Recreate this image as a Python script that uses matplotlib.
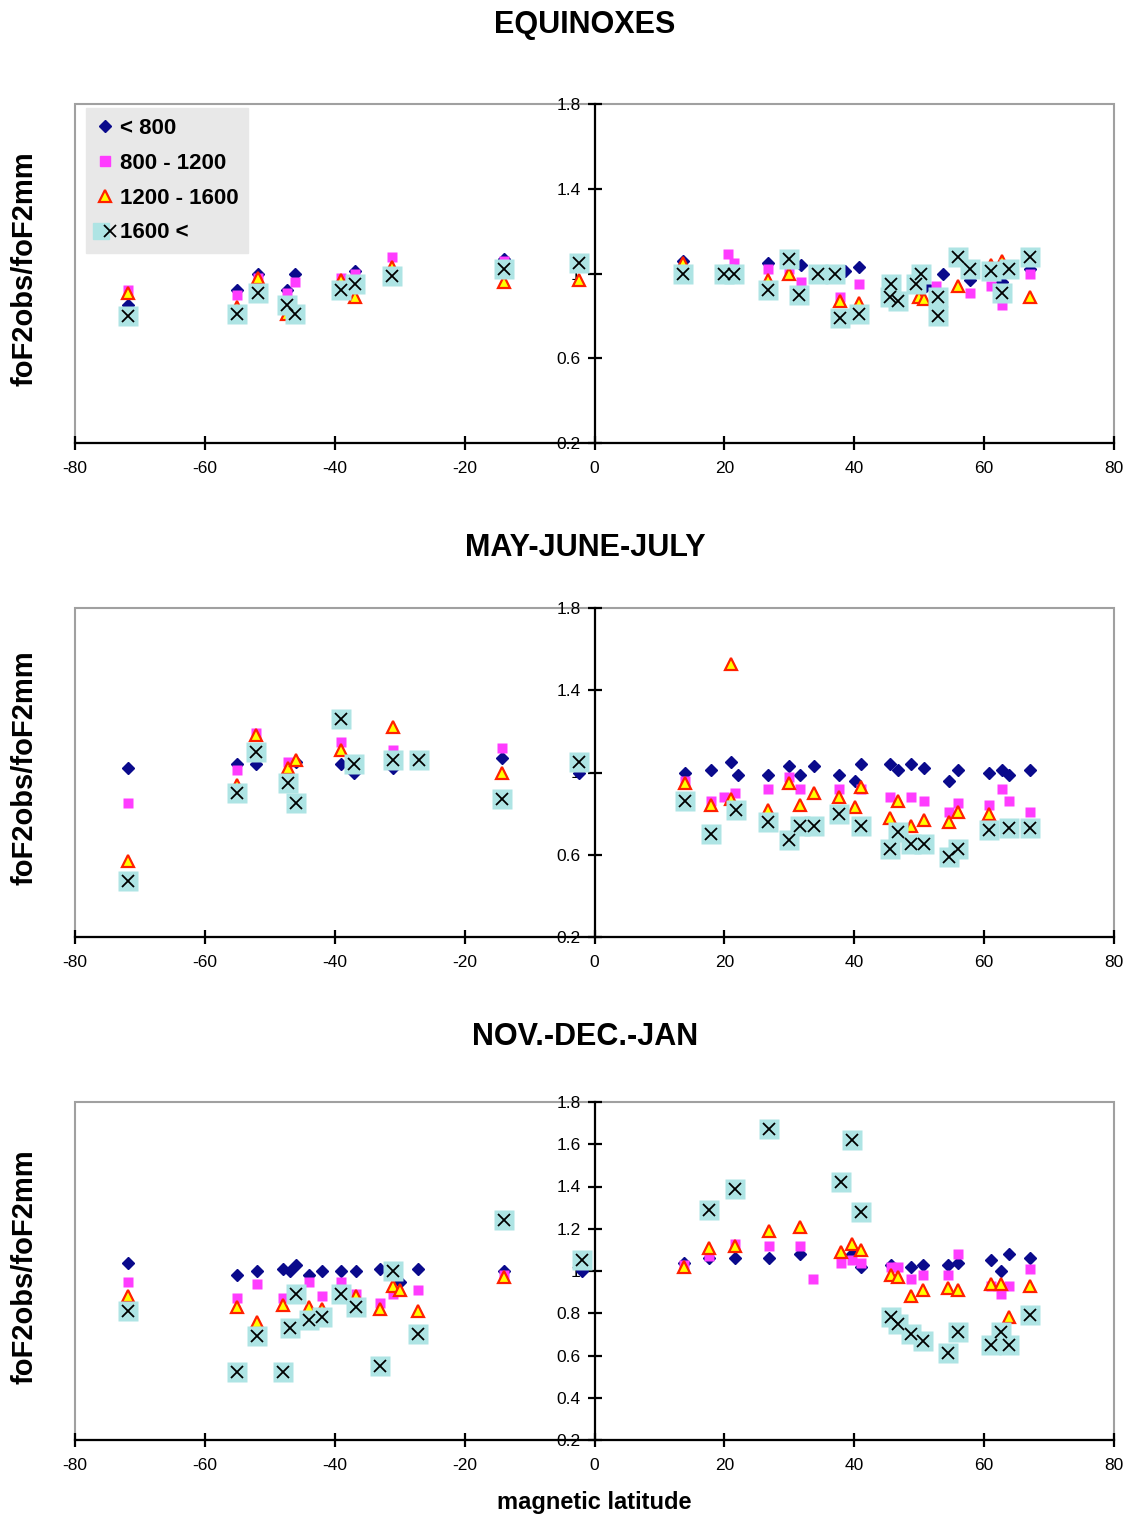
import numpy as np
import matplotlib
matplotlib.use("Agg")
import matplotlib.pyplot as plt
from matplotlib.patches import Rectangle
from matplotlib.lines import Line2D
from matplotlib.legend_handler import HandlerTuple

plt.rcParams['font.family'] = ['Liberation Sans', 'DejaVu Sans']

# Gruppen (Legende)
labels = ['< 800', '800 - 1200', '1200 - 1600', '1600 <']
titles = ['EQUINOXES', 'MAY-JUNE-JULY', 'NOV.-DEC.-JAN']

# --- EQUINOXES ---
eq_a_x = [-71.8, -55.0, -51.8, -47.3, -46.1, -36.9, -13.9, 13.6, 26.7, 31.8, 38.5, 40.8, 51.1, 53.7, 57.8, 62.7, 67.0]
eq_a_y = [0.85, 0.92, 1.0, 0.92, 1.0, 1.01, 1.07, 1.06, 1.05, 1.04, 1.01, 1.03, 0.94, 1.0, 0.97, 0.96, 1.02]
eq_b_x = [-71.8, -55.0, -51.8, -47.3, -46.1, -39.1, -36.9, -31.2, -13.9, 20.5, 21.5, 26.7, 30.0, 31.8, 37.8, 40.8, 52.6, 57.8, 61.1, 62.7, 67.0]
eq_b_y = [0.92, 0.90, 0.98, 0.91, 0.96, 0.98, 1.0, 1.08, 1.06, 1.09, 1.05, 1.02, 1.02, 0.96, 0.89, 0.95, 0.94, 0.91, 0.94, 0.85, 1.0]
eq_c_x = [-71.8, -55.0, -51.8, -47.3, -39.1, -36.9, -31.2, -13.9, -2.4, 13.6, 26.7, 30.0, 37.8, 40.8, 50.0, 50.8, 56.0, 61.1, 62.7, 67.0]
eq_c_y = [0.91, 0.84, 0.98, 0.81, 0.97, 0.89, 1.03, 0.96, 0.97, 1.05, 0.97, 1.0, 0.87, 0.86, 0.89, 0.88, 0.94, 1.04, 1.06, 0.89]
eq_d_x = [-71.8, -55.0, -51.8, -47.3, -46.1, -39.1, -36.9, -31.2, -13.9, -2.4, 13.6, 20.0, 21.5, 26.7, 30.0, 31.5, 34.4,
          37.0, 37.8, 40.8, 45.7, 45.5, 46.7, 49.5, 50.3, 52.9, 52.9, 56.0, 57.8, 61.1, 62.7, 63.9, 67.0]
eq_d_y = [0.80, 0.81, 0.91, 0.85, 0.81, 0.92, 0.95, 0.99, 1.02, 1.05, 1.0, 1.0, 1.0, 0.92, 1.07, 0.90, 1.0,
          1.0, 0.79, 0.81, 0.95, 0.89, 0.87, 0.95, 1.0, 0.89, 0.80, 1.08, 1.02, 1.01, 0.91, 1.02, 1.08]

# --- MAY-JUNE-JULY ---
mj_a_x = [-71.8, -55.0, -52.2, -46.0, -39.0, -37.1, -31.1, -14.3, -2.4, 13.9, 17.9, 21.0, 22.1, 26.7, 29.9, 31.6, 33.8,
          37.7, 40.1, 41.1, 45.5, 46.7, 48.8, 50.8, 54.6, 56.0, 60.8, 62.7, 63.9, 67.0]
mj_a_y = [1.02, 1.04, 1.04, 1.05, 1.04, 1.0, 1.02, 1.07, 1.0, 1.0, 1.01, 1.05, 0.99, 0.99, 1.03, 0.99, 1.03,
          0.99, 0.96, 1.04, 1.04, 1.01, 1.04, 1.02, 0.96, 1.01, 1.0, 1.01, 0.99, 1.01]
mj_b_x = [-71.8, -55.0, -52.2, -47.2, -39.0, -37.1, -31.1, -14.3, 13.9, 17.9, 20.0, 21.6, 26.7, 29.9, 31.6, 37.7,
          41.1, 45.5, 48.8, 50.8, 54.6, 56.0, 60.8, 62.7, 63.9, 67.0]
mj_b_y = [0.85, 1.01, 1.19, 1.05, 1.15, 1.06, 1.11, 1.12, 0.96, 0.86, 0.88, 0.90, 0.92, 0.98, 0.92, 0.92,
          0.92, 0.88, 0.88, 0.86, 0.81, 0.85, 0.84, 0.92, 0.86, 0.81]
mj_c_x = [-71.8, -55.0, -52.2, -47.2, -46.0, -39.0, -31.1, -14.3, 13.9, 17.9, 21.0, 21.0, 26.7, 29.9, 31.6, 33.8,
          37.7, 40.1, 41.1, 45.5, 46.7, 48.8, 50.8, 54.6, 56.0, 60.8]
mj_c_y = [0.57, 0.94, 1.18, 1.02, 1.06, 1.11, 1.22, 1.0, 0.95, 0.84, 1.53, 0.87, 0.82, 0.95, 0.84, 0.90,
          0.88, 0.83, 0.93, 0.78, 0.86, 0.74, 0.77, 0.76, 0.81, 0.80]
mj_d_x = [-71.8, -55.0, -52.2, -47.2, -46.0, -39.0, -37.1, -31.1, -27.0, -14.3, -2.4, 13.9, 17.9, 21.8, 26.7, 29.9,
          31.6, 33.8, 37.7, 41.1, 45.5, 46.7, 48.8, 50.8, 54.6, 56.0, 60.8, 63.9, 67.0]
mj_d_y = [0.47, 0.90, 1.10, 0.95, 0.85, 1.26, 1.04, 1.06, 1.06, 0.87, 1.05, 0.86, 0.70, 0.82, 0.76, 0.67,
          0.74, 0.74, 0.80, 0.74, 0.63, 0.71, 0.65, 0.65, 0.59, 0.63, 0.72, 0.73, 0.73]

# --- NOV.-DEC.-JAN ---
nd_a_x = [-71.8, -55.0, -52.0, -48.0, -46.9, -45.9, -43.9, -41.9, -39.1, -36.8, -33.0, -30.0, -27.2, -14.0, -2.0,
          13.8, 17.7, 21.7, 26.8, 31.7, 39.7, 41.0, 45.6, 48.8, 50.6, 54.5, 55.9, 61.0, 62.6, 63.9, 67.0]
nd_a_y = [1.04, 0.98, 1.0, 1.01, 1.0, 1.03, 0.98, 1.0, 1.0, 1.0, 1.01, 0.95, 1.01, 1.0, 1.0,
          1.04, 1.06, 1.06, 1.06, 1.08, 1.08, 1.02, 1.03, 1.02, 1.03, 1.03, 1.04, 1.05, 1.0, 1.08, 1.06]
nd_b_x = [-71.8, -55.0, -52.0, -48.0, -43.9, -41.9, -39.1, -36.8, -33.0, -31.0, -27.2, -14.0, 13.8, 17.7, 21.7,
          26.8, 31.7, 33.6, 38.0, 39.7, 41.0, 45.6, 46.7, 48.8, 50.6, 54.5, 55.9, 61.0, 62.6, 63.9, 67.0]
nd_b_y = [0.95, 0.87, 0.94, 0.87, 0.95, 0.88, 0.95, 0.89, 0.85, 0.89, 0.91, 0.98, 1.03, 1.07, 1.13,
          1.12, 1.12, 0.96, 1.04, 1.05, 1.04, 1.02, 1.02, 0.96, 0.98, 0.98, 1.08, 0.93, 0.89, 0.93, 1.01]
nd_c_x = [-71.8, -55.0, -52.0, -48.0, -43.9, -41.9, -36.8, -33.0, -31.0, -30.0, -27.2, -14.0, 13.8, 17.7, 21.7,
          26.8, 31.7, 38.0, 39.7, 41.0, 45.6, 46.7, 48.8, 50.6, 54.5, 55.9, 61.0, 62.6, 63.9, 67.0]
nd_c_y = [0.88, 0.83, 0.76, 0.84, 0.83, 0.82, 0.88, 0.82, 0.93, 0.91, 0.81, 0.97, 1.02, 1.11, 1.12,
          1.19, 1.21, 1.09, 1.13, 1.10, 0.98, 0.97, 0.88, 0.91, 0.92, 0.91, 0.94, 0.94, 0.78, 0.93]
nd_d_x = [-71.8, -55.0, -52.0, -48.0, -46.9, -45.9, -43.9, -41.9, -39.1, -36.8, -33.0, -31.0, -27.2, -14.0, -2.0,
          17.7, 21.7, 26.8, 38.0, 39.7, 41.0, 45.6, 46.7, 48.8, 50.6, 54.5, 55.9, 61.0, 62.6, 63.9, 67.0]
nd_d_y = [0.81, 0.52, 0.69, 0.52, 0.73, 0.89, 0.77, 0.78, 0.89, 0.83, 0.55, 1.0, 0.70, 1.24, 1.05,
          1.29, 1.39, 1.67, 1.42, 1.62, 1.28, 0.78, 0.75, 0.70, 0.67, 0.61, 0.71, 0.65, 0.71, 0.65, 0.79]

panels = [
    [(eq_a_x, eq_a_y), (eq_b_x, eq_b_y), (eq_c_x, eq_c_y), (eq_d_x, eq_d_y)],
    [(mj_a_x, mj_a_y), (mj_b_x, mj_b_y), (mj_c_x, mj_c_y), (mj_d_x, mj_d_y)],
    [(nd_a_x, nd_a_y), (nd_b_x, nd_b_y), (nd_c_x, nd_c_y), (nd_d_x, nd_d_y)],
]

# Positionen der Achsen in Pixeln (oben, unten)
W, H = 1127, 1517
boxes = [(104, 443), (608, 937), (1102, 1440)]
title_y = [25, 548, 1037]

fig = plt.figure(figsize=(W / 100, H / 100), dpi=100)

for i, (top, bot) in enumerate(boxes):
    ax = fig.add_axes([75 / W, 1 - bot / H, (1114 - 75) / W, (bot - top) / H])
    data = panels[i]

    ax.plot(data[0][0], data[0][1], ls='none', marker='D', ms=6.5, color='#0a0a8c', zorder=3)
    ax.plot(data[1][0], data[1][1], ls='none', marker='s', ms=7, color='#ff3cff', mec='none', zorder=4)
    ax.plot(data[2][0], data[2][1], ls='none', marker='^', ms=8.5, mfc='#ffff00', mec='#ff2000', mew=1.6, zorder=5)
    ax.plot(data[3][0], data[3][1], ls='none', marker='s', ms=14.5, color='#aee4e4', mec='none', zorder=6)
    ax.plot(data[3][0], data[3][1], ls='none', marker='x', ms=9, color='black', mew=1.3, zorder=7)

    ax.set_xlim(-80, 80)
    ax.set_ylim(0.2, 1.8)

    # grauer Rahmen, y-Achse bei 0
    for s in ['top', 'right']:
        ax.spines[s].set_visible(False)
    ax.add_patch(Rectangle((0, 0), 1, 1, transform=ax.transAxes, fill=False,
                           ec='#a0a0a0', lw=1.5, zorder=0, clip_on=False))
    ax.spines['left'].set_position(('data', 0))
    ax.spines['left'].set_linewidth(1.6)
    ax.spines['bottom'].set_linewidth(1.6)

    xt = np.arange(-80, 81, 20)
    ax.set_xticks(xt)
    ax.set_xticklabels([str(v) for v in xt])
    if i < 2:
        yt = [0.2, 0.6, 1.0, 1.4, 1.8]
    else:
        yt = [0.2, 0.4, 0.6, 0.8, 1.0, 1.2, 1.4, 1.6, 1.8]
    ax.set_yticks(yt)
    ax.set_yticklabels([('%g' % v) for v in yt])
    ax.tick_params(direction='inout', length=10, width=1.6, labelsize=12.5)
    ax.tick_params(axis='x', pad=8)
    ax.tick_params(axis='y', pad=5)

    fig.text(585 / W, 1 - title_y[i] / H, titles[i], ha='center', va='center',
             fontsize=22, fontweight='bold')
    fig.text(25 / W, 1 - (top + bot) / 2 / H + 0.003, 'foF2obs/foF2mm', rotation=90,
             ha='center', va='center', fontsize=21, fontweight='bold')

    if i == 0:
        h = [Line2D([], [], ls='none', marker='D', ms=6.5, color='#0a0a8c'),
             Line2D([], [], ls='none', marker='s', ms=7, color='#ff3cff'),
             Line2D([], [], ls='none', marker='^', ms=8.5, mfc='#ffff00', mec='#ff2000', mew=1.6),
             (Line2D([], [], ls='none', marker='s', ms=12, color='#aee4e4'),
              Line2D([], [], ls='none', marker='x', ms=8, color='black', mew=1.3))]
        leg = ax.legend(h, labels, loc='upper left', bbox_to_anchor=(0.011, 0.988),
                        handler_map={tuple: HandlerTuple(ndivide=None, pad=0)},
                        prop={'size': 16, 'weight': 'bold'}, facecolor='#e8e8e8',
                        edgecolor='#e8e8e8', framealpha=1, fancybox=False,
                        handlelength=0.8, handletextpad=0.25, borderpad=0.45,
                        labelspacing=0.62, borderaxespad=0)
        leg.set_zorder(10)

fig.text(594 / W, 1 - 1503 / H, 'magnetic latitude', ha='center', va='center',
         fontsize=17, fontweight='bold')

fig.savefig('out.png', dpi=100)
